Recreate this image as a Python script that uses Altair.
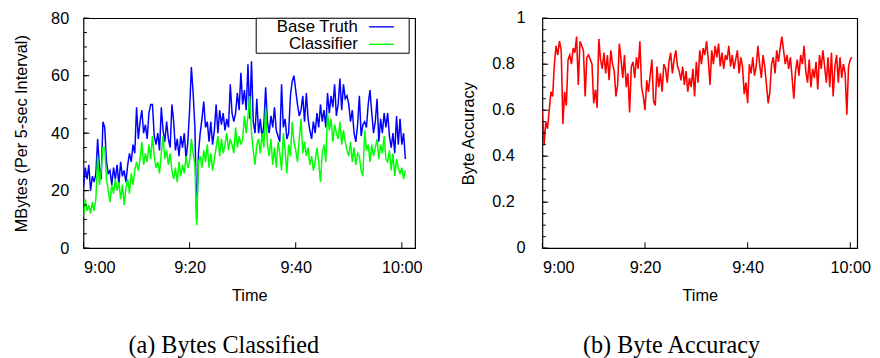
import altair as alt
import pandas as pd

SANS = "Liberation Sans"
SERIF = "Liberation Serif"

# ---------------- data ----------------
series_names = ["Base Truth", "Classifier"]
series_colors = ["#0000ff", "#00ff00"]
accuracy_color = "#ff0000"

x_tick_minutes = [0, 20, 40, 60]
x_tick_labels = ["9:00", "9:20", "9:40", "10:00"]
left_y_ticks = [0, 20, 40, 60, 80]
right_y_ticks = [0, 0.2, 0.4, 0.6, 0.8, 1.0]
right_y_labels = ["0", "0.2", "0.4", "0.6", "0.8", "1"]

# MBytes per interval, one value every 20 s from 9:00
base_truth = [
    21, 28, 24, 29, 20, 25, 23, 26, 38, 28, 24, 44, 42, 30, 26, 27, 22, 28, 24, 29, 22, 30, 25, 27, 23, 29, 33, 30, 36, 33,
    49, 38, 44, 48, 40, 43, 38, 47, 50, 50, 39, 36, 40, 34, 49, 41, 37, 44, 38, 35, 50, 44, 34, 38, 32, 39, 35, 40, 31, 37,
    48, 63, 54, 42, 10, 33, 40, 45, 51, 42, 44, 37, 44, 36, 41, 50, 40, 48, 43, 47, 41, 45, 42, 57, 47, 44, 47, 54, 48, 61,
    50, 55, 48, 64, 45, 65, 44, 40, 52, 40, 45, 38, 43, 56, 44, 40, 46, 42, 49, 41, 39, 37, 57, 42, 45, 38, 40, 53, 58, 60,
    55, 50, 46, 48, 53, 44, 54, 45, 41, 38, 44, 40, 47, 42, 50, 44, 48, 42, 54, 47, 53, 49, 57, 46, 50, 59, 48, 57, 52, 53,
    50, 44, 48, 40, 37, 43, 53, 39, 43, 44, 42, 50, 55, 47, 40, 44, 52, 37, 45, 40, 47, 42, 47, 39, 35, 40, 33, 46, 36, 45,
    36, 40, 31,
]
classifier = [
    11, 17, 13, 15, 12, 16, 13, 17, 32, 22, 27, 35, 35, 24, 20, 16, 22, 19, 24, 20, 23, 17, 22, 15, 21, 24, 19, 26, 22, 27,
    30, 27, 31, 37, 29, 33, 30, 36, 31, 39, 32, 28, 30, 26, 33, 39, 31, 34, 29, 33, 27, 24, 28, 23, 30, 25, 29, 26, 32, 28,
    30, 38, 33, 29, 8, 30, 32, 28, 34, 30, 36, 28, 33, 27, 31, 35, 39, 32, 38, 33, 36, 40, 34, 38, 36, 33, 42, 35, 39, 36,
    38, 46, 40, 46, 53, 40, 34, 29, 36, 38, 33, 40, 35, 49, 36, 32, 38, 29, 35, 28, 37, 33, 27, 40, 34, 26, 36, 32, 44, 37,
    34, 30, 38, 45, 33, 37, 32, 35, 29, 32, 27, 30, 35, 30, 23, 33, 36, 30, 47, 41, 45, 37, 43, 40, 38, 44, 36, 41, 37, 34,
    32, 37, 30, 35, 29, 33, 32, 27, 25, 41, 34, 36, 30, 36, 32, 35, 38, 31, 36, 33, 39, 31, 30, 34, 27, 33, 25, 31, 28, 26,
    28, 24, 27,
]
# byte accuracy, one value every 20 s from 9:00
accuracy = [
    0.60, 0.45, 0.55, 0.52, 0.60, 0.68, 0.66, 0.80, 0.88, 0.84, 0.90, 0.86, 0.54, 0.68, 0.62, 0.82, 0.84, 0.80, 0.87, 0.85, 0.92, 0.71, 0.90, 0.88, 0.86, 0.66, 0.83, 0.84, 0.82, 0.80,
    0.63, 0.69, 0.61, 0.91, 0.82, 0.78, 0.85, 0.76, 0.84, 0.73, 0.86, 0.80, 0.77, 0.66, 0.71, 0.89, 0.82, 0.74, 0.84, 0.70, 0.76, 0.59, 0.79, 0.81, 0.74, 0.83, 0.78, 0.90, 0.70, 0.66,
    0.60, 0.73, 0.68, 0.75, 0.82, 0.64, 0.62, 0.79, 0.70, 0.76, 0.68, 0.80, 0.78, 0.72, 0.81, 0.85, 0.76, 0.82, 0.86, 0.79, 0.77, 0.73, 0.79, 0.71, 0.77, 0.68, 0.74, 0.70, 0.78, 0.66,
    0.81, 0.72, 0.86, 0.80, 0.87, 0.84, 0.90, 0.82, 0.71, 0.86, 0.80, 0.88, 0.83, 0.89, 0.79, 0.85, 0.78, 0.84, 0.82, 0.88, 0.79, 0.84, 0.78, 0.82, 0.86, 0.76, 0.83, 0.79, 0.67, 0.72,
    0.63, 0.80, 0.76, 0.83, 0.75, 0.79, 0.88, 0.80, 0.74, 0.84, 0.79, 0.71, 0.63, 0.68, 0.80, 0.83, 0.76, 0.86, 0.81, 0.87, 0.92, 0.86, 0.80, 0.84, 0.78, 0.83, 0.74, 0.65, 0.77, 0.82,
    0.75, 0.84, 0.80, 0.88, 0.77, 0.72, 0.82, 0.70, 0.78, 0.74, 0.81, 0.69, 0.84, 0.78, 0.86, 0.79, 0.72, 0.83, 0.70, 0.85, 0.66, 0.79, 0.84, 0.72, 0.83, 0.74, 0.80, 0.76, 0.58, 0.79,
    0.82, 0.83,
]

SAMPLE_MIN = 1.0 / 3.0  # 20-second sampling, in minutes after 9:00
t_bytes = [i * SAMPLE_MIN for i in range(len(base_truth))]
t_acc = [i * SAMPLE_MIN for i in range(len(accuracy))]

df_bytes = pd.DataFrame({
    "t": t_bytes + t_bytes,
    "MB": base_truth + classifier,
    "series": [series_names[0]] * len(base_truth) + [series_names[1]] * len(classifier),
})
df_acc = pd.DataFrame({"t": t_acc, "acc": accuracy})

# ---------------- helpers ----------------
def label_expr(values, labels):
    expr = "'" + labels[-1] + "'"
    for v, l in reversed(list(zip(values[:-1], labels[:-1]))):
        expr = f"abs(datum.value - {v}) < 1e-6 ? '{l}' : " + expr
    return expr

x_lab_expr = label_expr(x_tick_minutes, x_tick_labels)

FS = 16.5
H = 233
W_L = 336
W_R = 319

def x_axis():
    return alt.Axis(values=x_tick_minutes, labelExpr=x_lab_expr, title="Time",
                    ticks=False, domain=False, grid=False, labelAngle=0,
                    labelFont=SANS, labelFontSize=FS, labelColor="black", labelPadding=12,
                    titleFont=SANS, titleFontSize=FS, titleFontWeight="normal",
                    titleColor="black", titlePadding=12)

def y_axis(values, title, tx, labels=True):
    return alt.Axis(values=values, title=title, ticks=False, domain=False, grid=False,
                    labels=labels,
                    labelFont=SANS, labelFontSize=FS, labelColor="black", labelPadding=15,
                    titleFont=SANS, titleFontSize=FS, titleFontWeight="normal", titleColor="black",
                    titleX=tx, titleY=H / 2, titleAngle=270, titleAlign="center",
                    titleBaseline="alphabetic")

def tick_layers(xs, ys, xax, yax, x_major, y_minor, y_major):
    layers = []
    layers.append(alt.Chart(pd.DataFrame({"v": y_minor})).mark_rule(color="black", strokeWidth=1)
                  .encode(y=alt.Y("v:Q", scale=ys, axis=yax), x=alt.value(0), x2=alt.value(3.5)))
    layers.append(alt.Chart(pd.DataFrame({"v": y_major})).mark_rule(color="black", strokeWidth=1)
                  .encode(y=alt.Y("v:Q", scale=ys, axis=yax), x=alt.value(0), x2=alt.value(6)))
    layers.append(alt.Chart(pd.DataFrame({"m": x_major})).mark_rule(color="black", strokeWidth=1)
                  .encode(x=alt.X("m:Q", scale=xs, axis=xax), y=alt.value(H), y2=alt.value(H - 6)))
    return layers

caption_style = dict(orient="bottom", anchor="middle", frame="bounds", font=SERIF,
                     fontSize=24.5, fontWeight="normal", color="black", offset=30, dx=6)

# ---------------- left panel ----------------
xs_l = alt.Scale(domain=[0, 62.5], nice=False, zero=False)
ys_l = alt.Scale(domain=[0, 80], nice=False)
xax_l = x_axis()
yax_l = y_axis(left_y_ticks, "MBytes (Per 5-sec Interval)", -58)

left_layers = []
for name, col in zip(series_names, series_colors):
    left_layers.append(
        alt.Chart(df_bytes).transform_filter(alt.datum.series == name)
        .mark_line(color=col, strokeWidth=1.5, clip=True)
        .encode(x=alt.X("t:Q", scale=xs_l, axis=xax_l), y=alt.Y("MB:Q", scale=ys_l, axis=yax_l))
    )

left_layers += tick_layers(xs_l, ys_l, xax_l, yax_l, x_tick_minutes, list(range(0, 81, 5)), left_y_ticks)

# legend (gnuplot style: label then line sample, inside a box)
left_layers.append(
    alt.Chart(pd.DataFrame({"k": [0]})).mark_rect(fill="white", stroke="black", strokeWidth=1)
    .encode(x=alt.value(175), x2=alt.value(330), y=alt.value(0), y2=alt.value(35.5))
)
for i, (name, col) in enumerate(zip(series_names, series_colors)):
    yv = 8.75 + i * 17.7
    left_layers.append(
        alt.Chart(pd.DataFrame({"label": [name]}))
        .mark_text(align="right", baseline="middle", font=SANS, fontSize=17, color="black")
        .encode(x=alt.value(278), y=alt.value(yv), text="label:N")
    )
    left_layers.append(
        alt.Chart(pd.DataFrame({"label": [name]}))
        .mark_rule(color=col, strokeWidth=1.4)
        .encode(x=alt.value(289.5), x2=alt.value(314.5), y=alt.value(yv))
    )

left = alt.layer(*left_layers).properties(
    width=W_L, height=H,
    title=alt.TitleParams("(a) Bytes Classified", **caption_style),
)

# ---------------- right panel ----------------
xs_r = alt.Scale(domain=[0, 61.35], nice=False, zero=False)
ys_r = alt.Scale(domain=[0, 1], nice=False)
xax_r = x_axis()
yax_r = y_axis(right_y_ticks, "Byte Accuracy", -70, labels=False)

right_layers = [
    alt.Chart(df_acc).mark_line(color=accuracy_color, strokeWidth=1.6, clip=True)
    .encode(x=alt.X("t:Q", scale=xs_r, axis=xax_r), y=alt.Y("acc:Q", scale=ys_r, axis=yax_r))
]
right_layers += tick_layers(xs_r, ys_r, xax_r, yax_r, x_tick_minutes, [i * 0.05 for i in range(21)], right_y_ticks)

# y tick labels drawn as text (gnuplot places the decimal ones a little further left)
df_rlab = pd.DataFrame({"v": right_y_ticks, "label": right_y_labels,
                        "dec": ["." in l for l in right_y_labels]})
for is_dec, xpos in [(False, -17), (True, -28)]:
    right_layers.append(
        alt.Chart(df_rlab).transform_filter(alt.datum.dec == is_dec)
        .mark_text(align="right", baseline="middle", font=SANS, fontSize=FS, color="black")
        .encode(y=alt.Y("v:Q", scale=ys_r, axis=yax_r), x=alt.value(xpos), text="label:N")
    )

right = alt.layer(*right_layers).properties(
    width=W_R, height=H,
    title=alt.TitleParams("(b) Byte Accuracy", **caption_style),
)

chart = (
    alt.hconcat(left, right, spacing=37)
    .configure_view(stroke="black", strokeWidth=1.2)
    .properties(padding={"left": 4.5, "top": -1, "right": 0, "bottom": 0}, background="white")
)

chart.save("out.html", embed_options={"renderer": "svg", "actions": False})
